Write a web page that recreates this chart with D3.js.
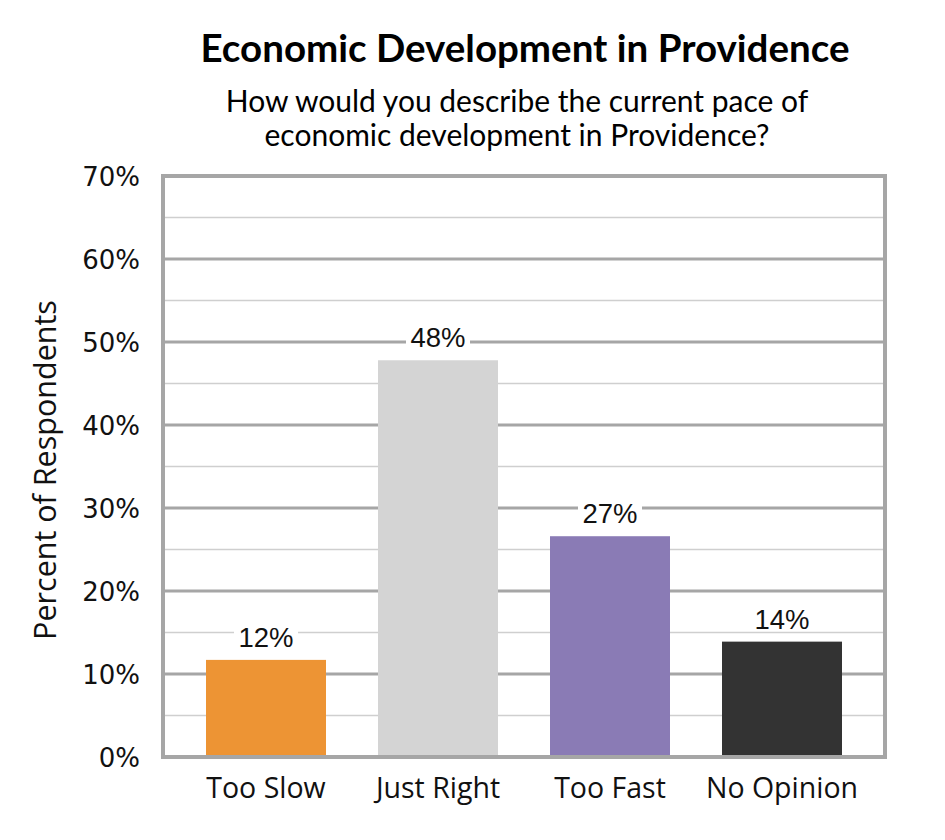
<!DOCTYPE html>
<html>
<head>
<meta charset="utf-8">
<script src="https://cdn.jsdelivr.net/npm/d3@7"></script>
<style>
  body { margin: 0; background: #fff; }
</style>
</head>
<body>
<div id="chart"></div>
<script>
// chart data
var categories = ["Too Slow", "Just Right", "Too Fast", "No Opinion"];
var values = [11.7, 47.8, 26.6, 13.9];
var barLabels = ["12%", "48%", "27%", "14%"];
var barColors = ["#ED9434", "#D4D4D4", "#8A7BB5", "#333333"];
var majorTicks = [0, 10, 20, 30, 40, 50, 60, 70];
var minorTicks = [5, 15, 25, 35, 45, 55, 65];

var svgWidth = 945;
var svgHeight = 840;

var plot = { left: 163, right: 885, top: 176, bottom: 757 };

var svg = d3.select("#chart")
  .append("svg")
  .attr("width", svgWidth)
  .attr("height", svgHeight);

var yScale = d3.scaleLinear()
  .domain([0, 70])
  .range([plot.bottom, plot.top]);

var xScale = d3.scaleBand()
  .domain(categories)
  .range([180, 868])
  .paddingInner(52 / 172)
  .paddingOuter(26 / 172);

// minor gridlines
svg.append("g")
  .selectAll("line")
  .data(minorTicks)
  .enter()
  .append("line")
  .attr("x1", plot.left)
  .attr("x2", plot.right)
  .attr("y1", d => yScale(d))
  .attr("y2", d => yScale(d))
  .attr("stroke", "#CFCFCF")
  .attr("stroke-width", 1.5);

// major gridlines
svg.append("g")
  .selectAll("line")
  .data(majorTicks.slice(1, -1))
  .enter()
  .append("line")
  .attr("x1", plot.left)
  .attr("x2", plot.right)
  .attr("y1", d => yScale(d))
  .attr("y2", d => yScale(d))
  .attr("stroke", "#A6A6A6")
  .attr("stroke-width", 3);

// y axis tick labels
var leftAxis = d3.axisLeft(yScale)
  .tickValues(majorTicks)
  .tickSize(0)
  .tickPadding(23)
  .tickFormat(d => d + "%");

var yAxis = svg.append("g")
  .attr("transform", `translate(${plot.left}, 0)`)
  .call(leftAxis);
yAxis.select(".domain").remove();
yAxis.selectAll("text")
  .attr("font-family", "DejaVu Sans")
  .attr("font-size", 26)
  .attr("fill", "#111")
  .attr("dy", "0.36em");

// bars
svg.append("g")
  .selectAll("rect")
  .data(values)
  .enter()
  .append("rect")
  .attr("x", (d, i) => xScale(categories[i]))
  .attr("y", d => yScale(d))
  .attr("width", xScale.bandwidth())
  .attr("height", d => yScale(0) - yScale(d))
  .attr("fill", (d, i) => barColors[i]);

// plot border
svg.append("rect")
  .attr("x", plot.left)
  .attr("y", plot.top)
  .attr("width", plot.right - plot.left)
  .attr("height", plot.bottom - plot.top)
  .attr("fill", "none")
  .attr("stroke", "#A6A6A6")
  .attr("stroke-width", 4);

// bar value labels with white backing
var labelGroups = svg.append("g")
  .selectAll("g")
  .data(values)
  .enter()
  .append("g")
  .attr("transform", (d, i) => `translate(${xScale(categories[i]) + xScale.bandwidth() / 2}, ${yScale(d) - 13})`);

labelGroups.append("rect")
  .attr("x", -32)
  .attr("y", -25)
  .attr("width", 64)
  .attr("height", 27)
  .attr("fill", "#fff");

labelGroups.append("text")
  .attr("text-anchor", "middle")
  .attr("font-family", "Liberation Sans")
  .attr("font-size", 27.5)
  .attr("fill", "#111")
  .text((d, i) => barLabels[i]);

// category labels
svg.append("g")
  .selectAll("text")
  .data(categories)
  .enter()
  .append("text")
  .attr("x", d => xScale(d) + xScale.bandwidth() / 2)
  .attr("y", 798)
  .attr("text-anchor", "middle")
  .attr("font-family", "Open Sans")
  .attr("font-size", 28.5)
  .attr("fill", "#111")
  .text(d => d);

// y axis title
svg.append("text")
  .attr("transform", "translate(56, 470) rotate(-90)")
  .attr("text-anchor", "middle")
  .attr("font-family", "Open Sans")
  .attr("font-size", 30.5)
  .attr("fill", "#111")
  .text("Percent of Respondents");

// title and subtitle
svg.append("text")
  .attr("x", 525)
  .attr("y", 62)
  .attr("text-anchor", "middle")
  .attr("font-family", "Lato")
  .attr("font-weight", "bold")
  .attr("font-size", 38.5)
  .attr("fill", "#000")
  .text("Economic Development in Providence");

svg.append("text")
  .attr("x", 517)
  .attr("y", 112)
  .attr("text-anchor", "middle")
  .attr("font-family", "Lato")
  .attr("font-size", 30)
  .attr("fill", "#000")
  .text("How would you describe the current pace of");

svg.append("text")
  .attr("x", 517)
  .attr("y", 146)
  .attr("text-anchor", "middle")
  .attr("font-family", "Lato")
  .attr("font-size", 30)
  .attr("fill", "#000")
  .text("economic development in Providence?");
</script>
</body>
</html>
